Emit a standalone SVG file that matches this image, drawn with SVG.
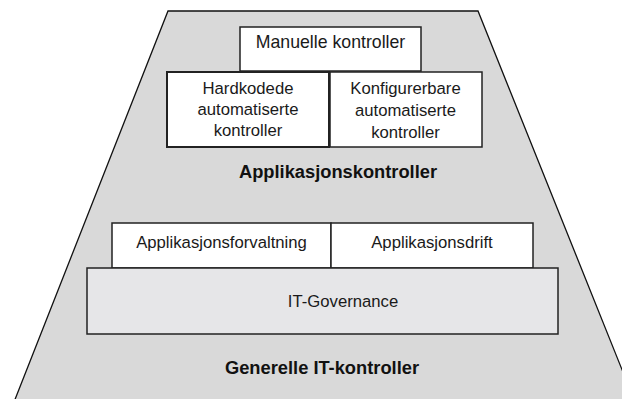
<svg xmlns="http://www.w3.org/2000/svg" width="622" height="399" viewBox="0 0 622 399">
  <style>
    .bg { fill: #d9d9d9; stroke: #111; stroke-width: 1.3; }
    .box { fill: #ffffff; stroke: #222; stroke-width: 1.5; }
    .gov { fill: #e6e6e8; stroke: #222; stroke-width: 1.5; }
    .t { font-family: "Liberation Sans", Arial, sans-serif; font-size: 16.7px; fill: #1a1a1a; text-anchor: middle; }
    .b { font-family: "Liberation Sans", Arial, sans-serif; font-size: 18.3px; font-weight: bold; fill: #111; text-anchor: middle; }
  </style>
  <polygon class="bg" points="168,11 478,11 635,402 14,402"/>
  <g id="manuelle">
    <rect class="box" x="240" y="27" width="181" height="44"/>
    <text class="t" x="330.5" y="48" style="font-size:17.7px">Manuelle kontroller</text>
  </g>
  <g id="hardkodede">
    <rect class="box" x="167" y="72" width="162" height="75" style="stroke-width:2"/>
    <text class="t" x="248" y="94">Hardkodede</text>
    <text class="t" x="248" y="115">automatiserte</text>
    <text class="t" x="248" y="136">kontroller</text>
  </g>
  <g id="konfigurerbare">
    <rect class="box" x="330" y="72" width="152" height="75"/>
    <text class="t" x="405.5" y="94">Konfigurerbare</text>
    <text class="t" x="405.5" y="116">automatiserte</text>
    <text class="t" x="405.5" y="138">kontroller</text>
  </g>
  <g id="applikasjonskontroller">
    <text class="b" x="338" y="178">Applikasjonskontroller</text>
  </g>
  <g id="forvaltning">
    <rect class="box" x="112" y="223" width="219" height="45"/>
    <text class="t" x="221.5" y="248">Applikasjonsforvaltning</text>
  </g>
  <g id="drift">
    <rect class="box" x="331" y="223" width="202" height="45"/>
    <text class="t" x="432" y="248">Applikasjonsdrift</text>
  </g>
  <g id="itgov">
    <rect class="gov" x="87" y="268" width="471" height="66"/>
    <text class="t" x="343" y="307">IT-Governance</text>
  </g>
  <g id="generelle">
    <text class="b" x="322" y="374">Generelle IT-kontroller</text>
  </g>
  <g id="connectors"></g>
</svg>
